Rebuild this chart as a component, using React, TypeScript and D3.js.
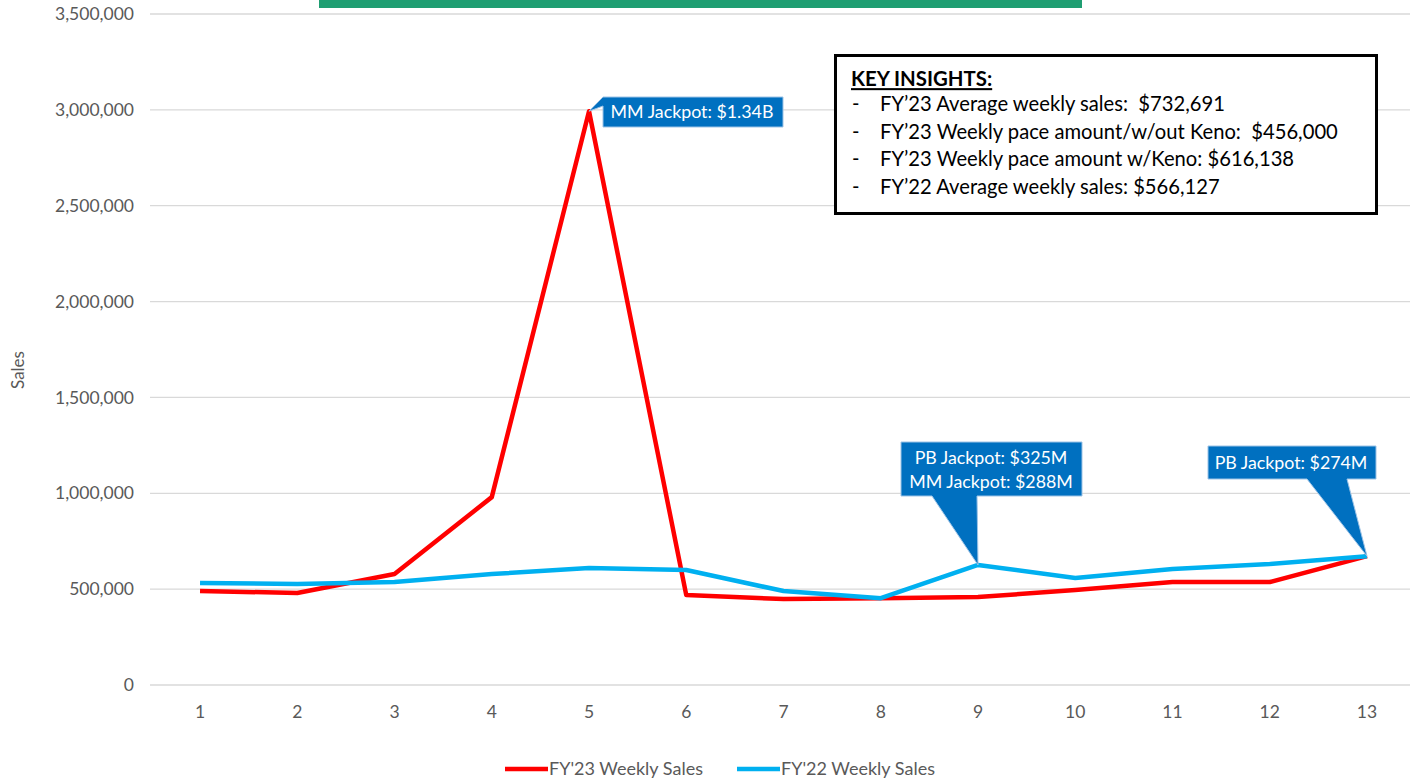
import React from "react";
import * as d3 from "d3";

const weeks = [1, 2, 3, 4, 5, 6, 7, 8, 9, 10, 11, 12, 13];
const fy23 = [490000, 480000, 579000, 980000, 2993000, 469000, 448000, 453000, 459000, 495000, 537000, 537000, 672000];
const fy22 = [532000, 527000, 537000, 579000, 610000, 600000, 490000, 453000, 626000, 558000, 605000, 631000, 672000];
const yTicks = [0, 500000, 1000000, 1500000, 2000000, 2500000, 3000000, 3500000];
const seriesNames = ["FY'23 Weekly Sales", "FY'22 Weekly Sales"];
const insights = [
  "FY\u201923 Average weekly sales:  $732,691",
  "FY\u201923 Weekly pace amount/w/out Keno:  $456,000",
  "FY\u201923 Weekly pace amount w/Keno: $616,138",
  "FY\u201922 Average weekly sales: $566,127",
];

const W = 1410;
const H = 779;
const FONT = "Lato, 'Open Sans', sans-serif";

export default function App() {
  const x = d3.scaleBand<number>().domain(weeks).range([151.4, 151.4 + 13 * 97.25]);
  const cx = (w: number) => (x(w) as number) + x.bandwidth() / 2;
  const y = d3.scaleLinear().domain([0, 3500000]).range([685, 14]);
  const fmt = d3.format(",");
  const line = d3
    .line<number>()
    .x((_, i) => cx(weeks[i]))
    .y((d) => y(d));

  const tip5 = [cx(5), y(fy23[4])];
  const tip9 = [cx(9), y(fy22[8])];
  const tip13 = [cx(13), y(fy22[12])];
  const blue = "#0070c0";
  const callStroke = "#9dc3e6";

  return (
    <svg width={W} height={H} style={{ position: "absolute", left: 0, top: 0, background: "#fff" }} fontFamily={FONT}>
      {/* title box (cut off) */}
      <rect x={319} y={-20} width={763} height={28} fill="#1f9e72" />
      {/* gridlines */}
      {yTicks.map((t) => (
        <line key={t} x1={150} x2={W} y1={y(t)} y2={y(t)} stroke="#d9d9d9" strokeWidth={1.3} />
      ))}
      {/* y tick labels */}
      {yTicks.map((t) => (
        <text key={"l" + t} x={134} y={y(t)} dy="0.35em" textAnchor="end" fontSize={17.5} fill="#595959">
          {fmt(t)}
        </text>
      ))}
      <text transform={`translate(24,370) rotate(-90)`} textAnchor="middle" fontSize={17} fill="#595959">
        Sales
      </text>
      {/* x tick labels */}
      {weeks.map((w) => (
        <text key={"x" + w} x={cx(w)} y={712} dy="0.35em" textAnchor="middle" fontSize={17.5} fill="#595959">
          {w}
        </text>
      ))}
      {/* lines */}
      <path d={line(fy23) || ""} fill="none" stroke="#ff0000" strokeWidth={4.5} strokeLinejoin="round" />
      <path d={line(fy22) || ""} fill="none" stroke="#00b0f0" strokeWidth={4.5} strokeLinejoin="round" />

      {/* callout 1 */}
      <path
        d={`M603,97 L783,97 L783,127 L603,127 L603,106 L${tip5[0]},${tip5[1]} Z`}
        fill={blue}
        stroke={callStroke}
        strokeWidth={1}
      />
      <text x={692} y={112} dy="0.35em" textAnchor="middle" fontSize={17.8} fill="#fff">
        MM Jackpot: $1.34B
      </text>
      {/* callout 2 */}
      <path
        d={`M901,442 L1082,442 L1082,496 L977,496 L${tip9[0]},${tip9[1]} L932,496 L901,496 Z`}
        fill={blue}
        stroke={callStroke}
        strokeWidth={1}
      />
      <text x={991} y={458} dy="0.35em" textAnchor="middle" fontSize={17.8} fill="#fff">
        PB Jackpot: $325M
      </text>
      <text x={991} y={482} dy="0.35em" textAnchor="middle" fontSize={17.8} fill="#fff">
        MM Jackpot: $288M
      </text>
      {/* callout 3 */}
      <path
        d={`M1208,446 L1376,446 L1376,479 L1347,479 L${tip13[0]},${tip13[1]} L1307,479 L1208,479 Z`}
        fill={blue}
        stroke={callStroke}
        strokeWidth={1}
      />
      <text x={1291} y={463} dy="0.35em" textAnchor="middle" fontSize={17.8} fill="#fff">
        PB Jackpot: $274M
      </text>

      {/* key insights */}
      <rect x={835.5} y={55.5} width={541} height={158} fill="#fff" stroke="#000" strokeWidth={3} />
      <text x={851} y={79} dy="0.35em" fontSize={20.4} fontWeight="bold" fill="#000" textDecoration="underline">
        KEY INSIGHTS:
      </text>
      {insights.map((s, i) => (
        <g key={s}>
          <text x={852} y={104 + i * 27.5} dy="0.35em" fontSize={20.2} fill="#000">
            -
          </text>
          <text x={880} y={104 + i * 27.5} dy="0.35em" fontSize={20.2} fill="#000" style={{ whiteSpace: "pre" }}>
            {s}
          </text>
        </g>
      ))}

      {/* legend */}
      <line x1={505} x2={548} y1={769} y2={769} stroke="#ff0000" strokeWidth={4.5} />
      <text x={549} y={769} dy="0.35em" fontSize={18} fill="#595959">
        {seriesNames[0]}
      </text>
      <line x1={737} x2={780} y1={769} y2={769} stroke="#00b0f0" strokeWidth={4.5} />
      <text x={781} y={769} dy="0.35em" fontSize={18} fill="#595959">
        {seriesNames[1]}
      </text>
    </svg>
  );
}
